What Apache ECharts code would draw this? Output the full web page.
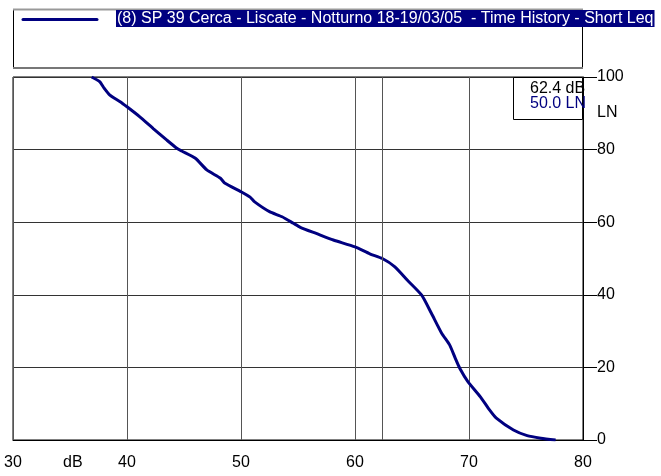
<!DOCTYPE html>
<html>
<head>
<meta charset="utf-8">
<script src="https://cdn.jsdelivr.net/npm/echarts@6/dist/echarts.min.js"></script>
<style>
  html, body { margin: 0; padding: 0; background: #fff; }
  #chart { width: 661px; height: 476px; }
</style>
</head>
<body>
<div id="chart"></div>
<script>
// Level distribution curve: sound level (dB) vs exceedance percentile (LN)
const seriesName = '(8) SP 39 Cerca - Liscate - Notturno 18-19/03/05  - Time History - Short Leq';
const levelDb = [
  36.9, 37.6, 38.0, 38.5, 39.4, 40.0, 41.1, 42.3, 43.5, 44.4, 44.8, 46.0, 47.0,
  48.2, 48.6, 50.0, 50.8, 51.2, 52.5, 53.6, 54.6, 55.2, 56.6, 58.1, 60.0, 61.3,
  62.4, 63.5, 64.6, 65.85, 66.7, 67.6, 68.3, 68.8, 69.2, 69.9, 71.0, 71.8, 72.4,
  73.9, 75.1, 76.3, 77.6
];
const lnPercent = [
  100.0, 98.7, 96.9, 95.0, 93.2, 91.8, 89.1, 85.8, 82.6, 80.3, 79.6, 77.6, 74.4,
  72.1, 70.7, 68.4, 66.9, 65.6, 62.9, 61.5, 59.7, 58.6, 56.9, 55.1, 53.2, 51.3,
  50.0, 47.7, 44.0, 39.9, 34.9, 29.4, 26.2, 22.5, 19.7, 16.1, 11.9, 8.3, 6.0,
  2.75, 1.2, 0.5, 0.0
];
const xTicks = [30, 40, 50, 60, 70, 80];
const yTicks = [0, 20, 40, 60, 80, 100];
const cursorDb = 62.4;
const cursorLn = 50.0;

const points = levelDb.map((v, i) => [v, lnPercent[i]]);
const font = 'Liberation Sans, Arial, sans-serif';
const navy = '#000080';

const chart = echarts.init(document.getElementById('chart'));
chart.setOption({
  animation: false,
  backgroundColor: '#fff',
  textStyle: { fontFamily: font },
  legend: {
    left: 23,
    top: 10,
    padding: 0,
    itemWidth: 88,
    itemHeight: 3,
    icon: 'rect',
    itemStyle: { opacity: 0 },
    data: [seriesName],
    textStyle: {
      fontFamily: font,
      fontSize: 16,
      color: '#fff',
      backgroundColor: navy,
      padding: [1, 1, 0, 1]
    }
  },
  grid: {
    left: 13, right: 78, top: 77, bottom: 36,
    show: true, borderColor: '#000', borderWidth: 1
  },
  xAxis: {
    type: 'value',
    min: xTicks[0], max: xTicks[xTicks.length - 1], interval: 10,
    axisLine: { show: true, lineStyle: { color: '#000' } },
    axisTick: { show: false },
    axisLabel: { color: '#000', fontSize: 16, margin: 15, fontFamily: font },
    splitLine: { show: true, lineStyle: { color: '#555', width: 1 } }
  },
  yAxis: {
    type: 'value',
    position: 'right',
    min: yTicks[0], max: yTicks[yTicks.length - 1], interval: 20,
    axisLine: { show: true, lineStyle: { color: '#000' } },
    axisTick: { show: true, length: 14, inside: false, lineStyle: { color: '#000' } },
    axisLabel: { color: '#000', fontSize: 16, margin: 14, fontFamily: font },
    splitLine: { show: true, lineStyle: { color: '#333', width: 1 } }
  },
  series: [{
    name: seriesName,
    type: 'line',
    data: points,
    showSymbol: false,
    smooth: 0.2,
    lineStyle: { color: navy, width: 3 },
    itemStyle: { color: navy },
    markLine: {
      silent: true,
      symbol: 'none',
      label: { show: false },
      lineStyle: { color: '#555', type: 'solid', width: 1 },
      data: [{ xAxis: cursorDb }]
    }
  }],
  graphic: [
    // legend frame and line sample
    { type: 'rect', shape: { x: 13.5, y: 9.5, width: 569, height: 58 },
      style: { fill: 'none', stroke: '#000', lineWidth: 1 }, z: 1 },
    { type: 'line', shape: { x1: 13, y1: 9.5, x2: 583, y2: 9.5 },
      style: { stroke: '#999', lineWidth: 2 }, z: 2 },
    { type: 'line', shape: { x1: 13, y1: 68, x2: 583, y2: 68 },
      style: { stroke: '#777', lineWidth: 2 }, z: 2 },
    { type: 'line', shape: { x1: 23, y1: 19.5, x2: 97, y2: 19.5 },
      style: { stroke: navy, lineWidth: 3, lineCap: 'round' }, z: 20 },
    // cursor read-out box
    { type: 'rect', shape: { x: 513.5, y: 77.5, width: 69, height: 42 },
      style: { fill: '#fff', stroke: '#000', lineWidth: 1 }, z: 10 },
    { type: 'text', x: 530, y: 81, z: 11,
      style: { text: cursorDb.toFixed(1) + ' dB', fill: '#000', font: '16px ' + font } },
    { type: 'text', x: 530, y: 96, z: 11,
      style: { text: cursorLn.toFixed(1) + ' LN', fill: navy, font: '16px ' + font } },
    // axis units
    { type: 'text', x: 597, y: 105, z: 11,
      style: { text: 'LN', fill: '#000', font: '16px ' + font } },
    { type: 'text', x: 63, y: 455, z: 11,
      style: { text: 'dB', fill: '#000', font: '16px ' + font } }
  ]
});
</script>
</body>
</html>
